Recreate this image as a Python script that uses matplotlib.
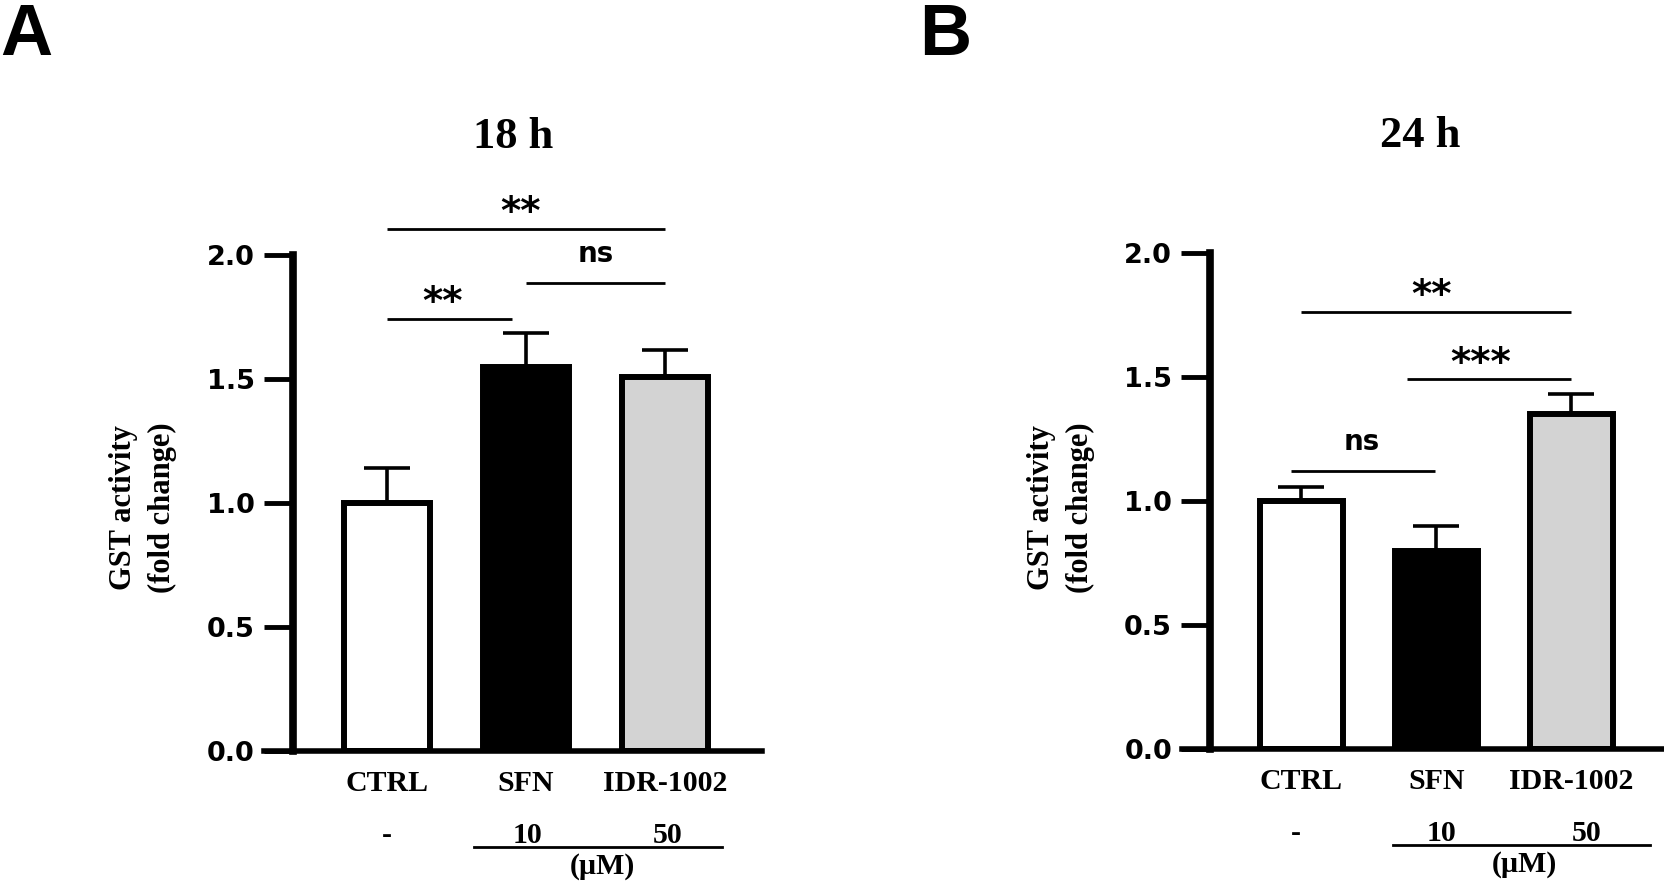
import matplotlib.pyplot as plt

# GST activity, fold change vs control (mean, upper SEM)
groups = ['CTRL', 'SFN', 'IDR-1002']
doses = ['-', '10', '50']
fills = ['white', 'black', '#d3d3d3']

gst_18h = [1.00, 1.55, 1.51]
sem_18h = [0.14, 0.135, 0.105]
gst_24h = [1.00, 0.80, 1.35]
sem_24h = [0.055, 0.10, 0.08]

# significance bars: (x from, x to, height, label, label x)
sig_18h = [(0, 2, 2.105, '**', 0.96),
           (1, 2, 1.887, 'ns', 1.50),
           (0, 0.9, 1.742, '**', 0.40)]
sig_24h = [(0, 2, 1.762, '**', 0.96),
           (0.785, 2, 1.49, '***', 1.33),
           (-0.08, 0.99, 1.12, 'ns', 0.45)]

serif = 'Liberation Serif'
sans = 'DejaVu Sans'

fig = plt.figure(figsize=(16.65, 8.84), dpi=100)


def draw_panel(ax, vals, errs, sig, dose_x, line_x, um_x):
    x = [0, 1, 2]
    ax.bar(x, vals, width=0.62, color=fills, edgecolor='black', linewidth=4.3, zorder=1)
    ax.errorbar(x, vals, yerr=[[0, 0, 0], errs], fmt='none', ecolor='black',
                elinewidth=2.6, capsize=16.5, capthick=2.6, zorder=2)

    ax.set_xlim(-0.885, 2.7)
    ax.set_ylim(0, 2)
    ax.set_yticks([0, 0.5, 1.0, 1.5, 2.0])
    ax.set_yticklabels(['0.0', '0.5', '1.0', '1.5', '2.0'])
    for sp in ['top', 'right']:
        ax.spines[sp].set_visible(False)
    ax.spines['left'].set_position(('data', -0.676))
    ax.spines['left'].set_linewidth(5.5)
    ax.spines['left'].set_bounds(0, 2)
    ax.spines['bottom'].set_linewidth(4)
    ax.tick_params(axis='y', direction='out', length=21, width=3.5, pad=6.5)
    ax.tick_params(axis='x', length=0, pad=14)
    for lab in ax.get_yticklabels():
        lab.set_fontfamily(sans)
        lab.set_fontweight('bold')
        lab.set_fontsize(19.5)
    ax.set_xticks(x)
    ax.set_xticklabels(groups, fontfamily=serif, fontweight='bold', fontsize=21.5)

    for x0, x1, h, lab, tx in sig:
        ax.plot([x0, x1], [h, h], color='black', lw=2, clip_on=False, solid_capstyle='butt')
        if lab == 'ns':
            ax.text(tx, h + 0.084, lab, ha='center', va='baseline', fontsize=20,
                    fontweight='bold', family=sans, clip_on=False)
        else:
            ax.text(tx, h + 0.019, lab, ha='center', va='baseline', fontsize=28,
                    fontweight='bold', family=sans, clip_on=False)

    for dx, d in zip(dose_x, doses):
        ax.text(dx, -0.37, d, ha='center', va='baseline', fontsize=21.5,
                fontweight='bold', family=serif, clip_on=False)
    ax.plot(line_x, [-0.387, -0.387], color='black', lw=2, clip_on=False)
    ax.text(um_x, -0.496, '(\u00b5M)', ha='center', va='baseline', fontsize=21.5,
            fontweight='bold', family=serif, clip_on=False)


axA = fig.add_axes([264 / 1665, 133 / 884, 498 / 1665, 496 / 884])
draw_panel(axA, gst_18h, sem_18h, sig_18h, [0, 1.014, 2.02], [0.63, 2.41], 1.55)
axB = fig.add_axes([1182 / 1665, 135 / 884, 484 / 1665, 496 / 884])
draw_panel(axB, gst_24h, sem_24h, sig_24h, [-0.04, 1.037, 2.11], [0.68, 2.58], 1.65)

fig.text(513 / 1665, 1 - 148 / 884, '18 h', ha='center', va='baseline',
         fontsize=32, fontweight='bold', family=serif)
fig.text(1420 / 1665, 1 - 147 / 884, '24 h', ha='center', va='baseline',
         fontsize=32, fontweight='bold', family=serif)

for xc in [143, 1061]:
    fig.text(xc / 1665, 1 - 508 / 884, 'GST activity\n(fold change)', rotation=90,
             ha='center', va='center', fontsize=22, fontweight='bold', family=serif,
             linespacing=1.45, multialignment='center')

fig.text(0.0, 1 - 2 / 884, 'A', ha='left', va='top', fontsize=52,
         fontweight='bold', family='Liberation Sans')
fig.text(919 / 1665, 1 - 2 / 884, 'B', ha='left', va='top', fontsize=52,
         fontweight='bold', family='Liberation Sans')

fig.savefig('out.png', dpi=100)
